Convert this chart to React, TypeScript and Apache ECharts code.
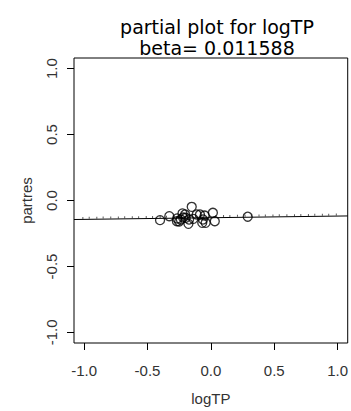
import React, { useEffect, useRef } from "react";
import * as echarts from "echarts";

const TITLE = "partial plot for logTP";
const BETA_LABEL = "beta= 0.011588";
const X_NAME = "logTP";
const Y_NAME = "partres";
const AXIS_TICKS = [-1, -0.5, 0, 0.5, 1];
const AXIS_MIN = -1.08;
const AXIS_MAX = 1.08;

const pointX = [-0.401, -0.328, -0.268, -0.224, -0.237, -0.198, -0.177, -0.151, -0.138, -0.112, -0.068, -0.049, -0.041, 0.016, 0.031, 0.291, -0.219, -0.203, -0.25, -0.086, -0.062, -0.172, -0.266];
const pointY = [-0.149, -0.119, -0.157, -0.098, -0.144, -0.131, -0.177, -0.048, -0.139, -0.106, -0.169, -0.114, -0.169, -0.093, -0.157, -0.123, -0.129, -0.106, -0.159, -0.106, -0.144, -0.144, -0.136];

const fitX = [-1.08, 1.08];
const fitY = [-0.144, -0.117];
const fitTickX = [-1.01, -0.96, -0.9, -0.85, -0.79, -0.73, -0.68, -0.62, -0.57, -0.51, -0.46, -0.4, -0.35, -0.29, -0.23, -0.18, -0.12, -0.07, -0.01, 0.04, 0.1, 0.15, 0.21, 0.27, 0.32, 0.38, 0.43, 0.49, 0.54, 0.6, 0.66, 0.71, 0.77, 0.82, 0.88, 0.93, 0.99];

const FONT = "'Liberation Sans', Arial, sans-serif";
const TITLE_FONT = "'DejaVu Sans', 'Liberation Sans', sans-serif";

export default function App() {
  const ref = useRef<HTMLDivElement>(null);
  useEffect(() => {
    if (!ref.current) return;
    const chart = echarts.init(ref.current, null, { renderer: "svg" });
    const fitAt = (x: number) =>
      fitY[0] + ((x - fitX[0]) * (fitY[1] - fitY[0])) / (fitX[1] - fitX[0]);
    const fmt = (v: number) => v.toFixed(1);
    chart.setOption({
      animation: false,
      backgroundColor: "#fff",
      textStyle: { fontFamily: FONT },
      title: [
        {
          text: TITLE,
          left: 212,
          top: 11,
          textAlign: "center",
          textStyle: { fontFamily: TITLE_FONT, fontSize: 19, fontWeight: "normal", color: "#000", lineHeight: 22 },
        },
        {
          text: BETA_LABEL,
          left: 212,
          top: 33,
          textAlign: "center",
          textStyle: { fontFamily: TITLE_FONT, fontSize: 19, fontWeight: "normal", color: "#000", lineHeight: 20 },
        },
      ],
      grid: { left: 74, top: 58, width: 276, height: 285, show: true, borderColor: "#000", borderWidth: 1, backgroundColor: "transparent" },
      xAxis: {
        type: "value",
        min: AXIS_MIN,
        max: AXIS_MAX,
        name: X_NAME,
        nameLocation: "middle",
        nameGap: 48,
        nameTextStyle: { fontFamily: FONT, fontSize: 15, color: "#333" },
        axisLine: { show: false, onZero: false },
        splitLine: { show: false },
        axisTick: { show: true, length: 7, customValues: AXIS_TICKS, lineStyle: { color: "#000" } },
        axisLabel: { customValues: AXIS_TICKS, formatter: fmt, margin: 20, fontSize: 15, color: "#333", fontFamily: FONT },
      },
      yAxis: {
        type: "value",
        min: AXIS_MIN,
        max: AXIS_MAX,
        name: Y_NAME,
        nameLocation: "middle",
        nameGap: 40,
        nameTextStyle: { fontFamily: FONT, fontSize: 15, color: "#333" },
        axisLine: { show: false, onZero: false },
        splitLine: { show: false },
        axisTick: { show: true, length: 7, customValues: AXIS_TICKS, lineStyle: { color: "#000" } },
        axisLabel: { customValues: AXIS_TICKS, formatter: fmt, rotate: 90, margin: 15, fontSize: 15, color: "#333", fontFamily: FONT },
      },
      series: [
        {
          type: "line",
          data: fitX.map((x, i) => [x, fitY[i]]),
          showSymbol: false,
          lineStyle: { color: "#000", width: 1 },
          silent: true,
        },
        {
          type: "scatter",
          data: fitTickX.map((x) => [x, fitAt(x)]),
          symbol: "rect",
          symbolSize: [1, 2],
          symbolOffset: [0, -1.5],
          itemStyle: { color: "#333" },
          silent: true,
        },
        {
          type: "scatter",
          data: pointX.map((x, i) => [x, pointY[i]]),
          symbol: "circle",
          symbolSize: 9,
          itemStyle: { color: "rgba(0,0,0,0)", borderColor: "#000", borderWidth: 1.3 },
        },
      ],
    });
    return () => chart.dispose();
  }, []);
  return (
    <div
      ref={ref}
      style={{ position: "fixed", left: 0, top: 0, width: 351, height: 411, background: "#fff" }}
    />
  );
}
